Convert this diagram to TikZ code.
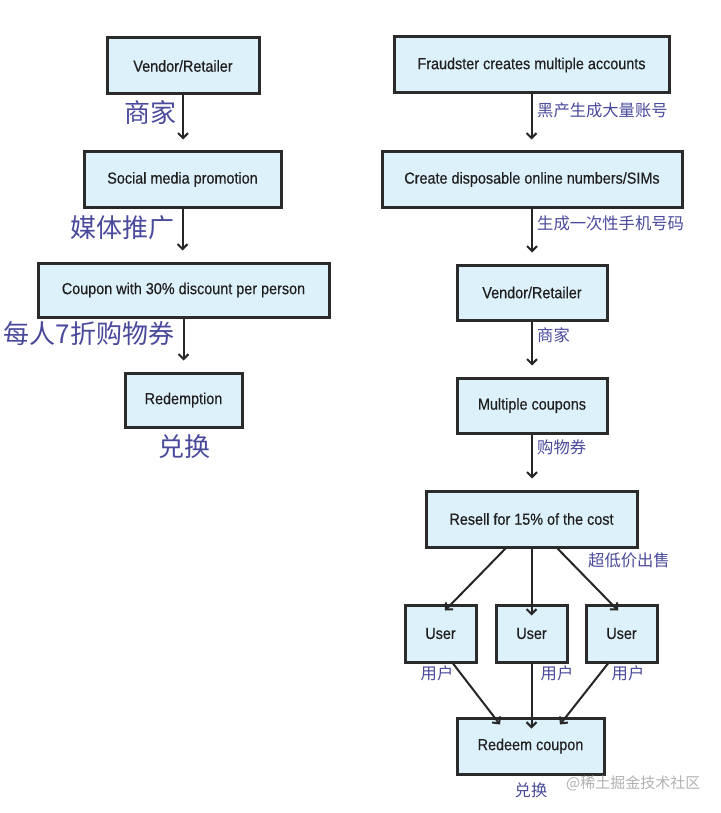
\documentclass[tikz,border=0pt]{standalone}
\usepackage{fontspec}
\setmainfont{Liberation Sans}[FakeStretch=0.9,FakeBold=0.4]
\newfontfamily\cjk{Noto Sans CJK SC}
\usetikzlibrary{arrows.meta}
\definecolor{boxfill}{HTML}{DDF1FA}
\definecolor{boxline}{HTML}{2B2B2B}
\definecolor{cjkcol}{HTML}{4A4A9C}
\tikzset{
  box/.style={draw=boxline, line width=3pt, fill=boxfill, inner sep=0pt,
    font=\fontsize{16}{18}\selectfont, text=black!88},
  arr/.style={draw=black!85, line width=2pt, -{Straight Barb[length=5pt,width=10pt,line width=2pt]}},
  biglab/.style={font=\cjk\fontsize{26}{29}\selectfont, text=cjkcol, inner sep=0pt},
  smalllab/.style={font=\cjk\fontsize{16.3}{19}\selectfont, text=cjkcol, inner sep=0pt},
  wm/.style={font=\cjk\fontsize{15}{18}\selectfont, text=black!30, inner sep=0pt}
}
\begin{document}
\begin{tikzpicture}[x=1pt,y=-1pt]
\useasboundingbox[fill=white] (0,0) rectangle (720,813);
% left column
\node[box, minimum width=152, minimum height=56] (L1) at (183,66) {Vendor/Retailer};
\node[box, minimum width=197, minimum height=55] (L2) at (182.5,179.5) {Social media promotion};
\node[box, minimum width=291, minimum height=54] (L3) at (183.5,290) {Coupon with 30\% discount per person};
\node[box, minimum width=117, minimum height=54] (L4) at (183.5,400) {Redemption};
\draw[arr, shorten >=11pt] (L1.south) -- (L1.south |- L2.north);
\draw[arr, shorten >=11pt] (L2.south) -- (L2.south |- L3.north);
\draw[arr, shorten >=11pt] (L3.south) -- (L3.south |- L4.north);
\node[biglab] (l1) at (150,113) {商家};
\node[biglab] (l2) at (122,228) {媒体推广};
\node[biglab] (l3) at (89,334) {每人7折购物券};
\node[biglab] (l4) at (184,447) {兑换};
% right column
\node[box, minimum width=275, minimum height=56] (R1) at (531.5,65) {Fraudster creates multiple accounts};
\node[box, minimum width=300, minimum height=55] (R2) at (532,179.5) {Create disposable online numbers/SIMs};
\node[box, minimum width=150, minimum height=55] (R3) at (532,292.5) {Vendor/Retailer};
\node[box, minimum width=150, minimum height=55] (R4) at (532,405.5) {Multiple coupons};
\node[box, minimum width=211, minimum height=56] (R5) at (531.5,519) {Resell for 15\% of the cost};
\node[box, minimum width=71, minimum height=57] (U1) at (440.5,633.5) {User};
\node[box, minimum width=71, minimum height=57] (U2) at (531.5,633.5) {User};
\node[box, minimum width=71, minimum height=57] (U3) at (621.5,633.5) {User};
\node[box, minimum width=147, minimum height=56] (R6) at (530.5,746) {Redeem coupon};
\draw[arr, shorten >=11pt] (R1.south) -- (R1.south |- R2.north);
\draw[arr, shorten >=11pt] (R2.south) -- (R2.south |- R3.north);
\draw[arr, shorten >=11pt] (R3.south) -- (R3.south |- R4.north);
\draw[arr, shorten >=11pt] (R4.south) -- (R4.south |- R5.north);
\draw[arr] ([xshift=-26pt]R5.south) -- ([xshift=4.5pt,yshift=-7pt]U1.north);
\draw[arr] (R5.south) -- ([yshift=-12pt]U2.north);
\draw[arr] ([xshift=26pt]R5.south) -- ([xshift=-3.5pt,yshift=-7pt]U3.north);
\draw[arr] ([xshift=12.5pt]U1.south) -- ([xshift=-30.5pt,yshift=-8pt]R6.north);
\draw[arr] (U2.south) -- ([yshift=-12pt]U2.south |- R6.north);
\draw[arr] ([xshift=-13.5pt]U3.south) -- ([xshift=29.5pt,yshift=-8pt]R6.north);
\node[smalllab, anchor=west] (r1) at (537,110) {黑产生成大量账号};
\node[smalllab, anchor=west] (r2) at (537,223) {生成一次性手机号码};
\node[smalllab, anchor=west] (r3) at (537,335) {商家};
\node[smalllab, anchor=west] (r4) at (537,447) {购物券};
\node[smalllab, anchor=west] (r5) at (588,560) {超低价出售};
\node[smalllab] (u1) at (437,673) {用户};
\node[smalllab] (u2) at (557,673) {用户};
\node[smalllab] (u3) at (628,673) {用户};
\node[smalllab] (r6) at (531,790) {兑换};
\node[wm, anchor=west] (wm) at (566,783) {@稀土掘金技术社区};
\end{tikzpicture}
\end{document}
